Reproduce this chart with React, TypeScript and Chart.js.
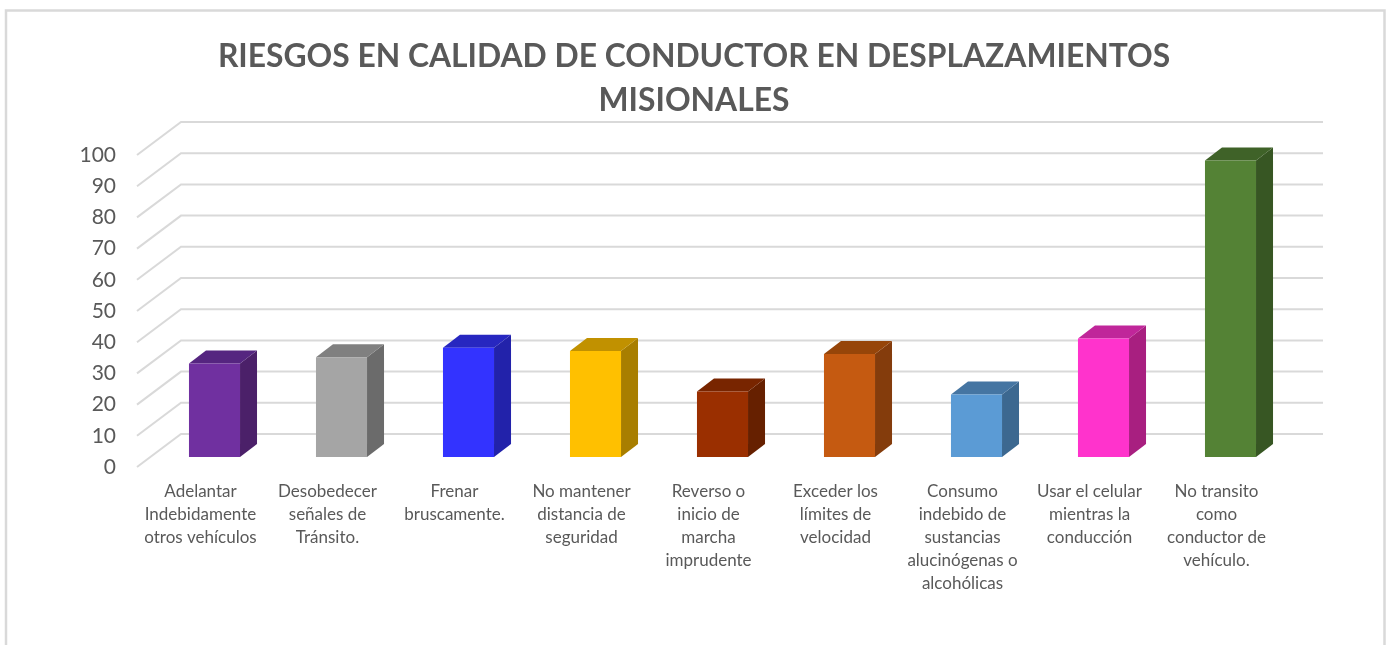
import React, { useEffect, useRef } from "react";
import { Chart, registerables } from "chart.js";

Chart.register(...registerables);

const titleLines = ["RIESGOS EN CALIDAD DE CONDUCTOR EN DESPLAZAMIENTOS", "MISIONALES"];
const categories: string[][] = [
  ["Adelantar", "Indebidamente", "otros vehículos"],
  ["Desobedecer", "señales de", "Tránsito."],
  ["Frenar", "bruscamente."],
  ["No mantener", "distancia de", "seguridad"],
  ["Reverso o", "inicio de", "marcha", "imprudente"],
  ["Exceder los", "límites de", "velocidad"],
  ["Consumo", "indebido de", "sustancias", "alucinógenas o", "alcohólicas"],
  ["Usar el celular", "mientras la", "conducción"],
  ["No transito", "como", "conductor de", "vehículo."],
];
const values = [30, 32, 35, 34, 21, 33, 20, 38, 95];
const frontColors = ["#7030A0", "#A5A5A5", "#3333FF", "#FFC000", "#9A2F00", "#C55A11", "#5B9BD5", "#FF33CC", "#548235"];
const sideColors = ["#4B2069", "#6B6B6B", "#2222AA", "#A87E00", "#662000", "#843C0C", "#3C6890", "#A81F80", "#375623"];
const topColors = ["#552580", "#808080", "#2727C0", "#C19100", "#782500", "#964509", "#4575A2", "#C0269A", "#3F6228"];

const BACK_DX = 44;
const BACK_DY = -33;
const BACK_RIGHT_DX = 43;
const BAR_DX = 14;
const BAR_DY = -10;
const FACE_DX = 17;
const FACE_DY = -13;
const GRID = "#D9D9D9";
const TEXT = "#595959";

const scene3d = {
  id: "scene3d",
  beforeDraw(chart: any) {
    const { ctx, width, height } = chart;
    ctx.save();
    ctx.fillStyle = "#FFFFFF";
    ctx.fillRect(0, 0, width, height);
    ctx.strokeStyle = GRID;
    ctx.lineWidth = 2.5;
    ctx.strokeRect(6, 10.5, 1378.5, 700);
    ctx.restore();
  },
  beforeDatasetsDraw(chart: any) {
    const { ctx, chartArea, scales } = chart;
    ctx.save();
    ctx.strokeStyle = GRID;
    ctx.lineWidth = 2;
    scales.y.ticks.forEach((t: any) => {
      const y = scales.y.getPixelForValue(t.value);
      ctx.beginPath();
      ctx.moveTo(chartArea.left, y);
      ctx.lineTo(chartArea.left + BACK_DX, y + BACK_DY);
      ctx.lineTo(chartArea.right + BACK_RIGHT_DX, y + BACK_DY);
      ctx.stroke();
    });
    ctx.restore();

    ctx.save();
    ctx.translate(BAR_DX, BAR_DY);
    chart.getDatasetMeta(0).data.forEach((bar: any, i: number) => {
      const { x, y, base, width } = bar.getProps(["x", "y", "base", "width"], true);
      const l = x - width / 2;
      const r = x + width / 2;
      ctx.fillStyle = sideColors[i];
      ctx.beginPath();
      ctx.moveTo(r, y);
      ctx.lineTo(r + FACE_DX, y + FACE_DY);
      ctx.lineTo(r + FACE_DX, base + FACE_DY);
      ctx.lineTo(r, base);
      ctx.closePath();
      ctx.fill();
      ctx.fillStyle = topColors[i];
      ctx.beginPath();
      ctx.moveTo(l, y);
      ctx.lineTo(l + FACE_DX, y + FACE_DY);
      ctx.lineTo(r + FACE_DX, y + FACE_DY);
      ctx.lineTo(r, y);
      ctx.closePath();
      ctx.fill();
    });
  },
  afterDatasetsDraw(chart: any) {
    chart.ctx.restore();
  },
};

export default function App() {
  const ref = useRef<HTMLCanvasElement>(null);
  useEffect(() => {
    const chart = new Chart(ref.current!, {
      type: "bar",
      plugins: [scene3d],
      data: {
        labels: categories,
        datasets: [
          {
            data: values,
            backgroundColor: frontColors,
            categoryPercentage: 1,
            barPercentage: 0.402,
            clip: false,
          } as any,
        ],
      },
      options: {
        animation: false,
        responsive: false,
        layout: { padding: 0 },
        plugins: {
          legend: { display: false },
          tooltip: { enabled: false },
          title: {
            display: true,
            text: titleLines,
            color: TEXT,
            font: { family: "Lato", size: 31.8, weight: "bold", lineHeight: 44 / 31.8 },
            padding: { top: 35, bottom: 32 },
          },
        },
        scales: {
          x: {
            grid: { display: false },
            border: { display: false },
            afterFit: (s: any) => {
              s.height = 178;
            },
            ticks: {
              color: TEXT,
              font: { family: "Lato", size: 17, lineHeight: 23 / 17 },
              maxRotation: 0,
              minRotation: 0,
              autoSkip: false,
              padding: 5,
            },
          },
          y: {
            min: 0,
            max: 100,
            grid: { display: false },
            border: { display: false },
            afterFit: (s: any) => {
              s.width = 137;
            },
            ticks: {
              stepSize: 10,
              color: TEXT,
              font: { family: "Lato", size: 21 },
              padding: 13,
            },
          },
          gutter: {
            type: "linear",
            position: "right",
            grid: { display: false },
            border: { display: false },
            ticks: { display: false },
            afterFit: (s: any) => {
              s.width = 108;
            },
          },
        },
      },
    });
    return () => chart.destroy();
  }, []);
  return (
    <div style={{ position: "fixed", left: 0, top: 0, width: 1388, height: 645, overflow: "hidden" }}>
      <canvas ref={ref} width={1388} height={645} style={{ display: "block" }} />
    </div>
  );
}
